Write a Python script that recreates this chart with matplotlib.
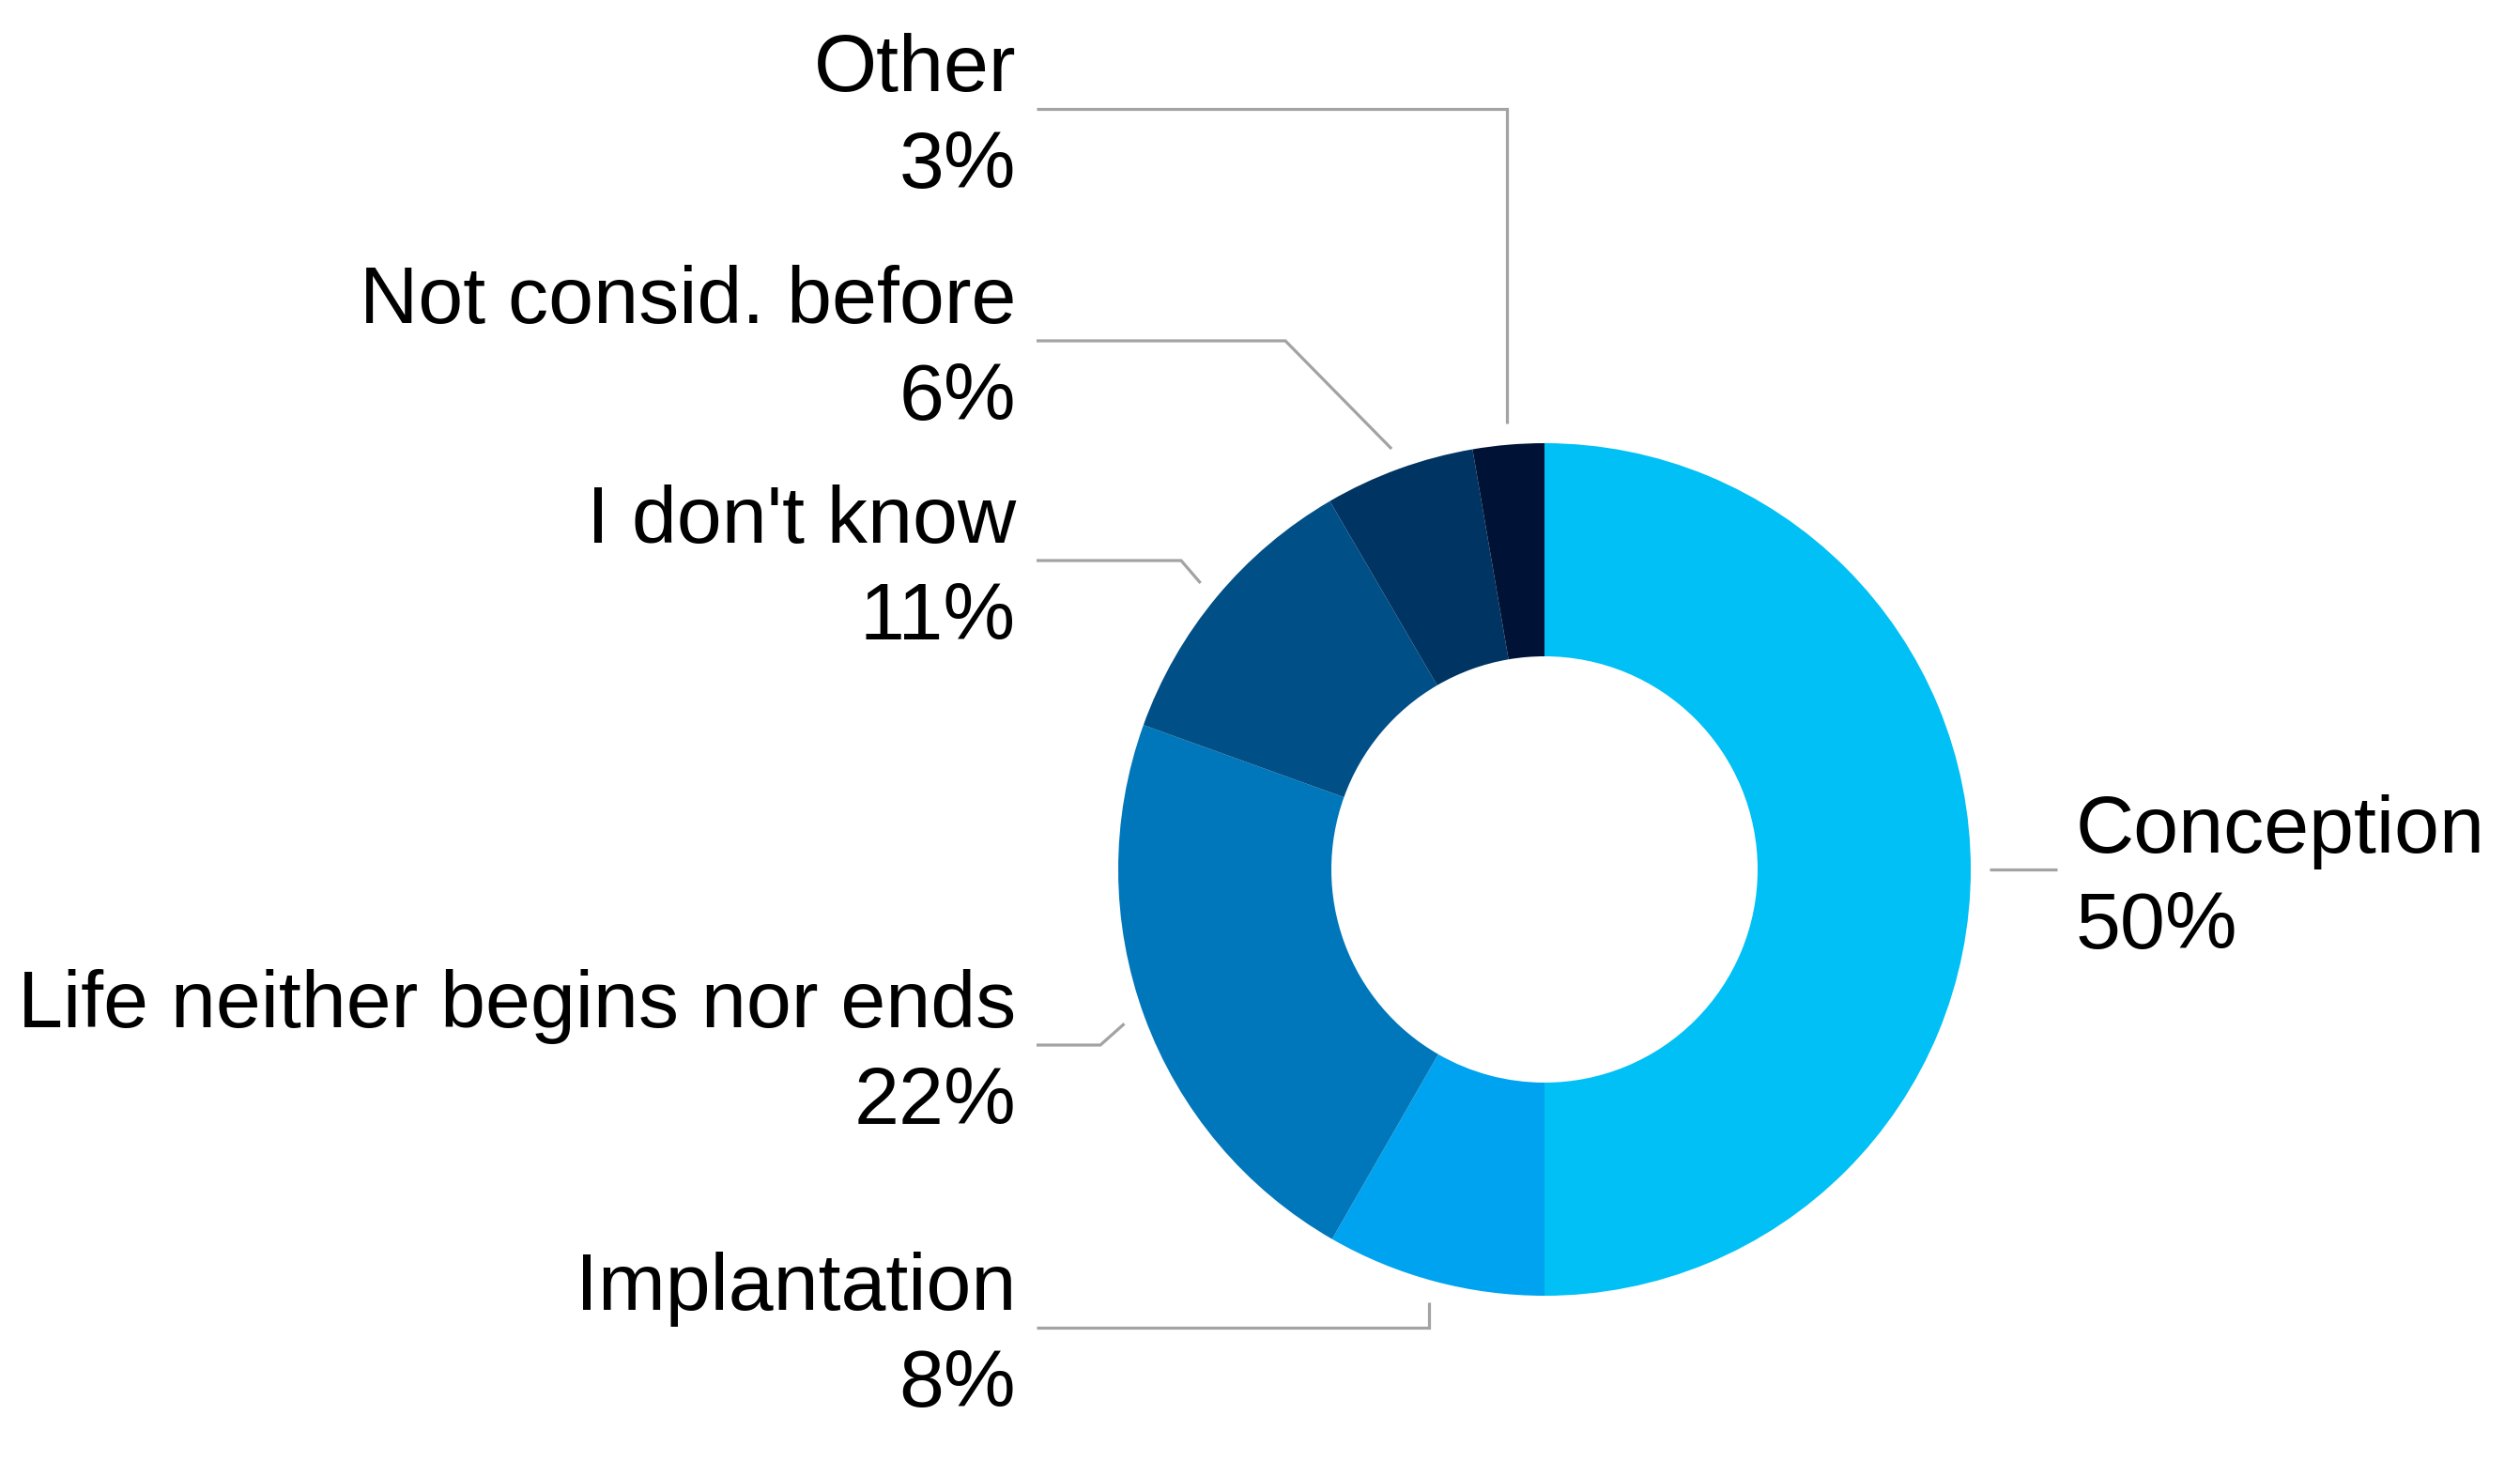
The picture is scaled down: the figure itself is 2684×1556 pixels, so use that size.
import matplotlib
matplotlib.use("Agg")
import matplotlib.pyplot as plt
import numpy as np

# ---- data ----
categories = ["Conception", "Implantation", "Life neither begins nor ends",
              "I don't know", "Not consid. before", "Other"]
values = [50.0, 8.3, 22.2, 11.1, 5.7, 2.7]
pct_labels = ["50%", "8%", "22%", "11%", "6%", "3%"]
colors = ["#00C0F5", "#00A3EF", "#0077BA", "#004F87", "#003462", "#001235"]

# ---- layout (pixel coords, y measured from top) ----
W, H = 2684, 1556
cx, cy = 1645, 926
R = 454
leader_y = {"Conception": 926, "Implantation": 1414, "Life neither begins nor ends": 1113,
            "I don't know": 597, "Not consid. before": 363, "Other": 116}
elbow_x = {"Conception": None, "Implantation": "vertical", "Life neither begins nor ends": 1172,
           "I don't know": 1258, "Not consid. before": 1369, "Other": "vertical"}

plt.rcParams['font.family'] = ['Liberation Sans', 'DejaVu Sans']
fig = plt.figure(figsize=(W / 100, H / 100), dpi=100)
ax = fig.add_axes([0, 0, 1, 1])

wedges, _ = ax.pie(values, colors=colors, startangle=90, counterclock=False,
                   radius=R, center=(cx, H - cy),
                   wedgeprops=dict(width=R * 0.5, linewidth=0))
ax.set_xlim(0, W)
ax.set_ylim(0, H)
ax.set_aspect('equal')
ax.axis('off')

line_kw = dict(color="#A3A3A3", lw=2.3, solid_capstyle='butt', solid_joinstyle='miter')
fs = 62
for w, cat, pct in zip(wedges, categories, pct_labels):
    mid = np.deg2rad((w.theta1 + w.theta2) / 2)
    ex = cx + 1.05 * R * np.cos(mid)
    ey = (H - cy) + 1.05 * R * np.sin(mid)
    ly = H - leader_y[cat]
    if cat == "Conception":
        x0 = cx + 1.045 * R
        x1 = 2191
        ax.plot([x0, x1], [ly, ly], **line_kw)
        ax.text(2211, ly + 18, cat, ha='left', va='baseline', fontsize=fs, color='black')
        ax.text(2211, ly - 84, pct, ha='left', va='baseline', fontsize=fs, color='black')
        continue
    e = elbow_x[cat]
    if e == "vertical":
        xs = [1104, ex, ex]
        ys = [ly, ly, ey]
    else:
        xs = [1104, e, ex]
        ys = [ly, ly, ey]
    ax.plot(xs, ys, **line_kw)
    ax.text(1082, ly + 19, cat, ha='right', va='baseline', fontsize=fs, color='black')
    ax.text(1082, ly - 84, pct, ha='right', va='baseline', fontsize=fs, color='black')

fig.savefig("out.png", dpi=100, facecolor='white')
